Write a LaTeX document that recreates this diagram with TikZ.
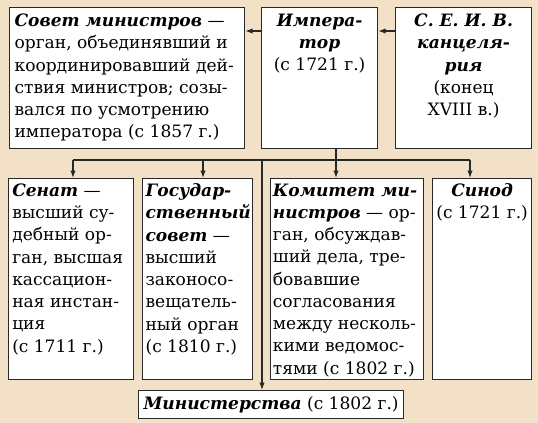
\documentclass[tikz,border=0pt]{standalone}
\usepackage{fontspec}
\setmainfont{DejaVu Serif}
\usetikzlibrary{positioning,arrows.meta}

\definecolor{paper}{RGB}{242,225,198}
\definecolor{ink}{RGB}{40,40,40}

\newcommand{\hd}[1]{\textbf{\textit{#1}}}

\tikzset{
	block/.style={draw=ink, line width=0.9pt, fill=white, inner sep=0pt, anchor=north west},
	txt/.style={inner sep=0pt, font=\fontsize{12.8}{16.7}\selectfont},
	link/.style={draw=ink, line width=0.9pt},
	arr/.style={link, -{Latex[length=5.5pt,width=4pt]}},
}

\begin{document}
\begin{tikzpicture}[x=0.75pt, y=-0.75pt]
	% Background
	\fill[paper] (0,0) rectangle (538,423);
	\useasboundingbox (0,0) rectangle (538,423);

	%Top row
	\node[block, minimum width=176.25pt, minimum height=105.75pt] (sovet) at (9,7) {};
	\node[block, minimum width=87pt, minimum height=105.75pt] (imp) at (261,7) {};
	\node[block, minimum width=102pt, minimum height=105.75pt] (kanc) at (395,7) {};

	%Bottom row
	\node[block, minimum width=93.75pt, minimum height=150.75pt] (senat) at (8,178) {};
	\node[block, minimum width=82.5pt, minimum height=150.75pt] (gos) at (142,178) {};
	\node[block, minimum width=114.75pt, minimum height=150.75pt] (kom) at (270,178) {};
	\node[block, minimum width=74.25pt, minimum height=150.75pt] (sinod) at (432,178) {};

	%Ministries
	\node[block, minimum width=198.75pt, minimum height=21pt] (min) at (138,390) {};

	%Texts
	\node[txt, align=left, below right=5pt and 4pt of sovet.north west] (sovet-t)
		{\hd{Совет министров} —\\ орган, объединявший и\\ координировавший дей-\\ ствия министров; созы-\\ вался по усмотрению\\ императора (с 1857 г.)};
	\node[txt, align=center, below=5pt of imp.north] (imp-t)
		{\hd{Импера-}\\ \hd{тор}\\ (с 1721 г.)};
	\node[txt, align=center, below=5pt of kanc.north] (kanc-t)
		{\hd{С. Е. И. В.}\\ \hd{канцеля-}\\ \hd{рия}\\ (конец\\ XVIII в.)};
	\node[txt, align=left, below right=4pt and 3pt of senat.north west] (senat-t)
		{\hd{Сенат} —\\ высший су-\\ дебный ор-\\ ган, высшая\\ кассацион-\\ ная инстан-\\ ция\\ (с 1711 г.)};
	\node[txt, align=left, below right=4pt and 2.5pt of gos.north west] (gos-t)
		{\hd{Государ-}\\ \hd{ственный}\\ \hd{совет} —\\ высший\\ законосо-\\ вещатель-\\ ный орган\\ (с 1810 г.)};
	\node[txt, align=left, below right=4pt and 2pt of kom.north west] (kom-t)
		{\hd{Комитет ми-}\\ \hd{нистров} — ор-\\ ган, обсуждав-\\ ший дела, тре-\\ бовавшие\\ согласования\\ между несколь-\\ кими ведомос-\\ тями (с 1802 г.)};
	\node[txt, align=center, below=4pt of sinod.north] (sinod-t)
		{\hd{Синод}\\ (с 1721 г.)};
	\node[txt] (min-t) at (min.center) {\hd{Министерства} (с 1802 г.)};

	%Arrows between top boxes
	\coordinate (hA) at (0,31);
	\draw[arr] (imp.west |- hA) -- (sovet.east |- hA);
	\draw[arr] (kanc.west |- hA) -- (imp.east |- hA);

	%Bus and drops
	\coordinate (dS) at (73,160);
	\coordinate (dG) at (203,160);
	\coordinate (dK) at (336,160);
	\coordinate (dM) at (262,160);
	\coordinate (dN) at (470,160);
	\draw[link] (dS) -- (dN);
	\draw[arr] (dK |- imp.south) -- (dK |- kom.north);
	\foreach \c/\b in {dS/senat, dG/gos, dN/sinod}
		\draw[arr] (\c) -- (\c |- \b.north);
	\draw[arr] (dM) -- (dM |- min.north);

\end{tikzpicture}
\end{document}
